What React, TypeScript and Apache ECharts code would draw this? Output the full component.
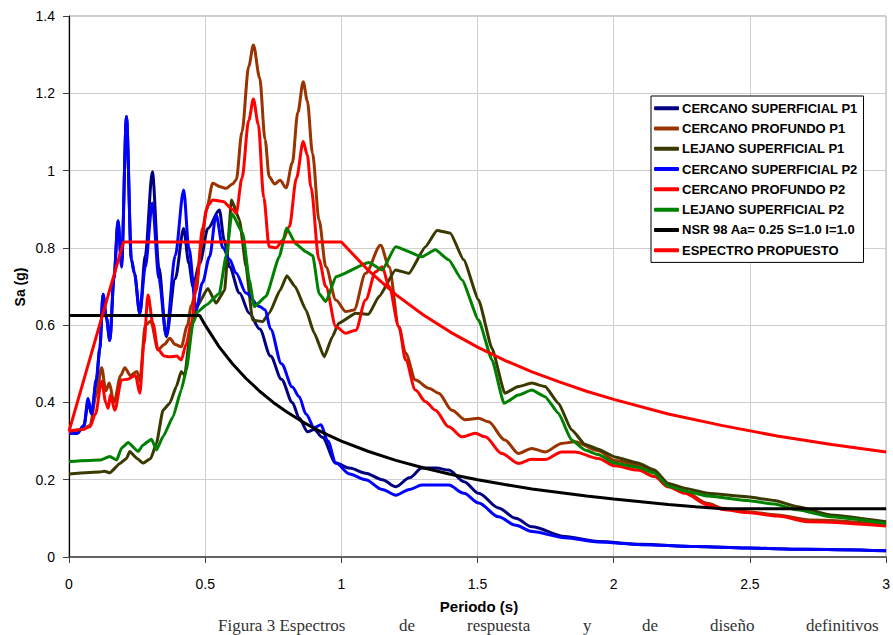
import React, { useEffect, useRef } from "react";
import * as echarts from "echarts";

const seriesNames = [
  "CERCANO SUPERFICIAL P1",
  "CERCANO PROFUNDO P1",
  "LEJANO SUPERFICIAL P1",
  "CERCANO SUPERFICIAL P2",
  "CERCANO PROFUNDO P2",
  "LEJANO SUPERFICIAL P2",
  "NSR 98 Aa= 0.25 S=1.0 I=1.0",
  "ESPECTRO PROPUESTO",
];

const seriesColors = ["#000080", "#993300", "#3a3a00", "#0000ff", "#ff0000", "#008000", "#000000", "#ff0000"];

const xTicks = [0, 0.5, 1, 1.5, 2, 2.5, 3];
const yTicks = [0, 0.2, 0.4, 0.6, 0.8, 1, 1.2, 1.4];

const captionWords = ["Figura 3 Espectros", "de", "respuesta", "y", "de", "diseño", "definitivos"];

const cercanoSupP1 = [
  [0, 0.32], [0.03, 0.32], [0.055, 0.34], [0.07, 0.4], [0.083, 0.37], [0.1, 0.45], [0.113, 0.54], [0.125, 0.68],
  [0.137, 0.62], [0.15, 0.56], [0.165, 0.72], [0.18, 0.87], [0.193, 0.76], [0.211, 1.14], [0.229, 0.77], [0.24, 0.735],
  [0.26, 0.63], [0.28, 0.78], [0.306, 0.997], [0.33, 0.75], [0.357, 0.57], [0.39, 0.72], [0.421, 0.85], [0.44, 0.76],
  [0.455, 0.7], [0.48, 0.76], [0.51, 0.85], [0.552, 0.898], [0.57, 0.82], [0.589, 0.751], [0.626, 0.683], [0.662, 0.631],
  [0.7, 0.59], [0.74, 0.52], [0.78, 0.46], [0.82, 0.4], [0.845, 0.36], [0.876, 0.324], [0.9, 0.33], [0.93, 0.31],
  [0.98, 0.243], [1.03, 0.23], [1.089, 0.217], [1.15, 0.2], [1.2, 0.182], [1.25, 0.205], [1.296, 0.23], [1.35, 0.23],
  [1.394, 0.225], [1.45, 0.195], [1.504, 0.165], [1.577, 0.127], [1.64, 0.1], [1.7, 0.078], [1.82, 0.053], [1.943, 0.04],
  [2.1, 0.033], [2.3, 0.027], [2.49, 0.023], [2.7, 0.02], [3.0, 0.016],
];

const cercanoProfP1 = [
  [0, 0.325], [0.05, 0.33], [0.077, 0.34], [0.1, 0.42], [0.12, 0.49], [0.135, 0.43], [0.148, 0.45], [0.165, 0.4],
  [0.19, 0.47], [0.205, 0.49], [0.225, 0.47], [0.25, 0.48], [0.26, 0.455], [0.28, 0.6], [0.3, 0.61], [0.327, 0.536],
  [0.35, 0.55], [0.37, 0.566], [0.39, 0.55], [0.412, 0.544], [0.435, 0.6], [0.449, 0.65], [0.467, 0.69], [0.485, 0.8],
  [0.504, 0.898], [0.528, 0.967], [0.555, 0.958], [0.577, 0.954], [0.6, 0.965], [0.614, 0.976], [0.635, 1.1], [0.66, 1.27],
  [0.677, 1.325], [0.7, 1.24], [0.72, 1.08], [0.735, 0.984], [0.755, 0.965], [0.775, 0.975], [0.797, 0.955], [0.82, 1.02],
  [0.84, 1.15], [0.86, 1.23], [0.875, 1.18], [0.894, 1.045], [0.918, 0.872], [0.943, 0.751], [0.98, 0.665], [1.016, 0.635],
  [1.046, 0.639], [1.089, 0.734], [1.144, 0.807], [1.175, 0.751], [1.211, 0.596], [1.236, 0.527], [1.272, 0.458], [1.321, 0.437],
  [1.357, 0.424], [1.406, 0.38], [1.455, 0.355], [1.504, 0.359], [1.54, 0.35], [1.6, 0.303], [1.65, 0.268], [1.699, 0.281],
  [1.748, 0.272], [1.809, 0.294], [1.857, 0.298], [1.943, 0.275], [2.004, 0.25], [2.089, 0.238], [2.15, 0.22], [2.199, 0.186],
  [2.26, 0.169], [2.345, 0.139], [2.4, 0.126], [2.49, 0.117], [2.6, 0.109], [2.72, 0.096], [3.0, 0.085],
];

const lejanoSupP1 = [
  [0, 0.215], [0.113, 0.22], [0.13, 0.222], [0.15, 0.218], [0.187, 0.242], [0.211, 0.255], [0.223, 0.273], [0.25, 0.255],
  [0.272, 0.243], [0.3, 0.255], [0.321, 0.294], [0.345, 0.38], [0.37, 0.398], [0.394, 0.441], [0.412, 0.48], [0.425, 0.47],
  [0.445, 0.58], [0.467, 0.645], [0.51, 0.695], [0.54, 0.657], [0.571, 0.69], [0.597, 0.924], [0.626, 0.872], [0.65, 0.751],
  [0.674, 0.613], [0.711, 0.609], [0.735, 0.631], [0.775, 0.69], [0.8, 0.728], [0.83, 0.7], [0.87, 0.639], [0.9, 0.58],
  [0.937, 0.518], [0.967, 0.57], [0.99, 0.605], [1.053, 0.631], [1.1, 0.628], [1.138, 0.674], [1.199, 0.743], [1.248, 0.734],
  [1.309, 0.803], [1.351, 0.845], [1.4, 0.838], [1.449, 0.769], [1.504, 0.665], [1.553, 0.54], [1.6, 0.424], [1.65, 0.441],
  [1.699, 0.45], [1.748, 0.441], [1.797, 0.398], [1.845, 0.329], [1.894, 0.292], [1.943, 0.279], [2.004, 0.259], [2.089, 0.243],
  [2.15, 0.225], [2.199, 0.191], [2.26, 0.178], [2.345, 0.165], [2.49, 0.156], [2.59, 0.146], [2.675, 0.13], [2.797, 0.109],
  [3.0, 0.091],
];

const cercanoSupP2 = [
  [0, 0.32], [0.03, 0.32], [0.055, 0.34], [0.07, 0.41], [0.083, 0.37], [0.1, 0.46], [0.113, 0.535], [0.125, 0.68],
  [0.137, 0.62], [0.15, 0.56], [0.165, 0.72], [0.18, 0.87], [0.193, 0.75], [0.211, 1.14], [0.229, 0.77], [0.24, 0.735],
  [0.26, 0.63], [0.28, 0.75], [0.306, 0.916], [0.33, 0.72], [0.357, 0.575], [0.39, 0.78], [0.421, 0.95], [0.44, 0.8],
  [0.467, 0.64], [0.49, 0.71], [0.516, 0.777], [0.54, 0.885], [0.565, 0.8], [0.59, 0.77], [0.613, 0.735], [0.65, 0.683],
  [0.7, 0.648], [0.72, 0.64], [0.74, 0.59], [0.78, 0.5], [0.82, 0.44], [0.845, 0.415], [0.87, 0.37], [0.9, 0.335],
  [0.925, 0.342], [0.95, 0.3], [0.98, 0.243], [1.03, 0.215], [1.089, 0.2], [1.15, 0.175], [1.2, 0.16], [1.25, 0.175],
  [1.296, 0.186], [1.394, 0.186], [1.45, 0.165], [1.504, 0.14], [1.577, 0.104], [1.64, 0.082], [1.7, 0.066], [1.82, 0.05],
  [1.943, 0.039], [2.1, 0.032], [2.3, 0.027], [2.49, 0.023], [2.7, 0.02], [3.0, 0.016],
];

const cercanoProfP2 = [
  [0, 0.325], [0.05, 0.33], [0.077, 0.337], [0.097, 0.37], [0.12, 0.455], [0.135, 0.4], [0.144, 0.385], [0.152, 0.42],
  [0.168, 0.38], [0.193, 0.458], [0.215, 0.46], [0.244, 0.47], [0.26, 0.424], [0.275, 0.55], [0.29, 0.678], [0.308, 0.605],
  [0.327, 0.536], [0.35, 0.52], [0.37, 0.518], [0.395, 0.52], [0.412, 0.51], [0.43, 0.55], [0.449, 0.605], [0.47, 0.72],
  [0.49, 0.85], [0.51, 0.91], [0.528, 0.924], [0.565, 0.92], [0.6, 0.9], [0.614, 0.89], [0.635, 0.98], [0.66, 1.13],
  [0.677, 1.185], [0.695, 1.12], [0.715, 0.93], [0.735, 0.803], [0.76, 0.8], [0.785, 0.82], [0.809, 0.855], [0.835, 0.98],
  [0.86, 1.075], [0.875, 1.04], [0.888, 0.958], [0.918, 0.769], [0.943, 0.7], [0.98, 0.596], [1.016, 0.579], [1.053, 0.587],
  [1.089, 0.665], [1.126, 0.738], [1.15, 0.751], [1.175, 0.7], [1.211, 0.596], [1.236, 0.51], [1.272, 0.432], [1.309, 0.402],
  [1.345, 0.38], [1.394, 0.337], [1.443, 0.311], [1.492, 0.32], [1.528, 0.311], [1.589, 0.268], [1.65, 0.242], [1.699, 0.253],
  [1.748, 0.252], [1.809, 0.272], [1.857, 0.272], [1.943, 0.255], [2.004, 0.236], [2.089, 0.225], [2.15, 0.208], [2.199, 0.182],
  [2.26, 0.165], [2.345, 0.135], [2.4, 0.123], [2.49, 0.115], [2.6, 0.106], [2.72, 0.091], [3.0, 0.08],
];

const lejanoSupP2 = [
  [0, 0.247], [0.113, 0.251], [0.15, 0.26], [0.175, 0.251], [0.193, 0.282], [0.217, 0.296], [0.254, 0.273], [0.272, 0.29],
  [0.303, 0.305], [0.321, 0.277], [0.345, 0.311], [0.382, 0.363], [0.412, 0.432], [0.431, 0.484], [0.455, 0.605], [0.473, 0.635],
  [0.504, 0.652], [0.552, 0.682], [0.577, 0.78], [0.598, 0.889], [0.638, 0.838], [0.662, 0.717], [0.68, 0.648], [0.723, 0.674],
  [0.772, 0.777], [0.799, 0.851], [0.833, 0.81], [0.87, 0.79], [0.895, 0.78], [0.918, 0.682], [0.943, 0.661], [0.98, 0.725],
  [1.101, 0.762], [1.15, 0.743], [1.199, 0.803], [1.296, 0.777], [1.345, 0.795], [1.394, 0.769], [1.443, 0.717], [1.504, 0.613],
  [1.553, 0.51], [1.597, 0.398], [1.65, 0.419], [1.699, 0.432], [1.748, 0.415], [1.797, 0.372], [1.845, 0.303], [1.894, 0.277],
  [1.943, 0.265], [2.004, 0.243], [2.089, 0.232], [2.15, 0.217], [2.199, 0.184], [2.26, 0.171], [2.345, 0.158], [2.49, 0.146],
  [2.59, 0.137], [2.675, 0.122], [2.797, 0.104], [3.0, 0.087],
];

const nsr98 = [
  [0, 0.625], [0.48, 0.625], [0.5, 0.6], [0.55, 0.545], [0.6, 0.5], [0.65, 0.462], [0.7, 0.429], [0.75, 0.4],
  [0.8, 0.375], [0.85, 0.353], [0.9, 0.333], [0.95, 0.316], [1.0, 0.3], [1.1, 0.273], [1.2, 0.25], [1.3, 0.231],
  [1.4, 0.214], [1.5, 0.2], [1.6, 0.1875], [1.7, 0.176], [1.8, 0.167], [1.9, 0.158], [2.0, 0.15], [2.1, 0.143],
  [2.2, 0.136], [2.3, 0.13], [2.4, 0.125], [3.0, 0.125],
];

const espectroPropuesto = [
  [0, 0.325], [0.2, 0.815], [1.0, 0.815], [1.1, 0.741], [1.2, 0.679], [1.3, 0.627], [1.4, 0.582], [1.5, 0.543],
  [1.6, 0.509], [1.7, 0.479], [1.8, 0.453], [1.9, 0.429], [2.0, 0.408], [2.2, 0.37], [2.4, 0.34], [2.6, 0.313],
  [2.8, 0.291], [3.0, 0.272],
];

const seriesData = [cercanoSupP1, cercanoProfP1, lejanoSupP1, cercanoSupP2, cercanoProfP2, lejanoSupP2, nsr98, espectroPropuesto];
const smoothness = [0.3, 0.3, 0.15, 0.3, 0.3, 0.15, 0, 0];

export default function App() {
  const ref = useRef<HTMLDivElement>(null);

  useEffect(() => {
    if (!ref.current) return;
    const chart = echarts.init(ref.current, null, { renderer: "svg" });
    const axisFont = "'Liberation Sans', Arial, sans-serif";
    const captionX = [218, 399, 467, 583, 642, 710, 806];
    const option: any = {
      animation: false,
      backgroundColor: "#ffffff",
      grid: {
        left: 69,
        top: 16,
        width: 820,
        height: 541,
        show: true,
        borderColor: "#9a9a9a",
        borderWidth: 1,
      },
      legend: {
        orient: "vertical",
        left: 651,
        top: 96,
        padding: [5, 6, 5, 3],
        itemGap: 6,
        itemWidth: 25,
        itemHeight: 4,
        icon: "roundRect",
        backgroundColor: "#ffffff",
        borderColor: "#000000",
        borderWidth: 1,
        data: seriesNames.map((n) => ({ name: n })),
        textStyle: {
          fontFamily: axisFont,
          fontWeight: "bold",
          fontSize: 13,
          color: "#000",
          lineHeight: 14.3,
          padding: [0, 0, 0, -2],
        },
      },
      xAxis: {
        type: "value",
        min: xTicks[0],
        max: xTicks[xTicks.length - 1],
        interval: 0.5,
        axisLine: { show: true, lineStyle: { color: "#404040", width: 1.5 } },
        axisTick: { show: true, inside: false, length: 6, lineStyle: { color: "#404040" } },
        axisLabel: {
          margin: 20,
          fontSize: 14,
          fontFamily: "'Liberation Sans Narrow', 'Arial Narrow', 'Liberation Sans', sans-serif",
          color: "#000",
          formatter: (v: number) => String(v),
        },
        splitLine: { show: true, lineStyle: { color: "#cfcfcf", width: 1 } },
      },
      yAxis: {
        type: "value",
        min: yTicks[0],
        max: yTicks[yTicks.length - 1],
        interval: 0.2,
        axisLine: { show: true, lineStyle: { color: "#000", width: 1.2 } },
        axisTick: { show: true, inside: false, length: 6, lineStyle: { color: "#404040" } },
        axisLabel: {
          margin: 14,
          fontSize: 14,
          fontFamily: axisFont,
          color: "#000",
          formatter: (v: number) => String(Math.round(v * 10) / 10),
        },
        splitLine: { show: true, lineStyle: { color: "#cfcfcf", width: 1 } },
      },
      graphic: [
        {
          type: "text",
          x: 479,
          y: 606,
          style: {
            text: "Periodo (s)",
            font: "bold 15px 'Liberation Sans', Arial, sans-serif",
            fill: "#000",
            align: "center",
            verticalAlign: "middle",
          },
        },
        {
          type: "text",
          x: 20,
          y: 287,
          rotation: Math.PI / 2,
          style: {
            text: "Sa (g)",
            font: "bold 14px 'Liberation Sans', Arial, sans-serif",
            fill: "#000",
            align: "center",
            verticalAlign: "middle",
          },
        },
        ...captionWords.map((w, i) => ({
          type: "text",
          x: captionX[i],
          y: 634,
          style: {
            text: w,
            font: "17px 'Liberation Serif', 'Times New Roman', serif",
            fill: "#333",
            align: "left",
            verticalAlign: "bottom",
          },
        })),
      ],
      series: seriesNames.map((name, i) => ({
        name,
        type: "line",
        data: seriesData[i],
        showSymbol: false,
        symbol: "none",
        smooth: smoothness[i] || false,
        smoothMonotone: "x",
        color: seriesColors[i],
        lineStyle: { color: seriesColors[i], width: 3 },
        z: 2 + i,
      })),
    };
    chart.setOption(option);
    return () => chart.dispose();
  }, []);

  return (
    <div
      ref={ref}
      style={{ position: "fixed", left: 0, top: 0, width: 893, height: 635, overflow: "hidden", background: "#fff" }}
    />
  );
}
